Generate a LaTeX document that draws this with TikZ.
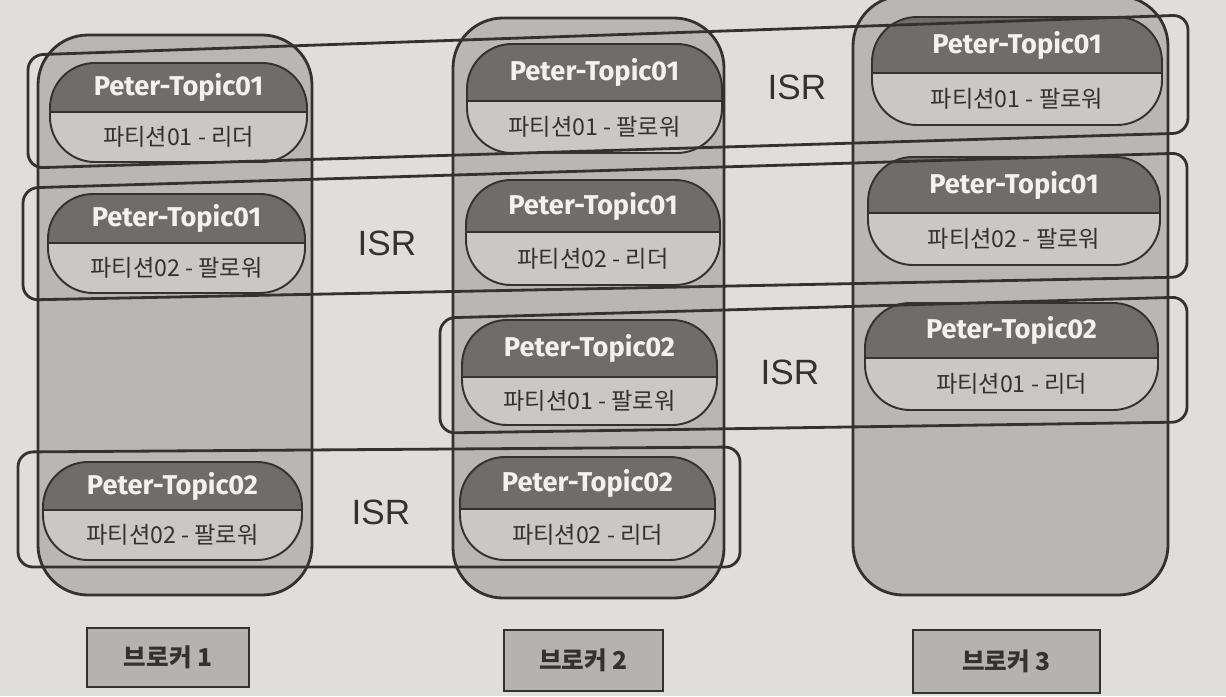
\documentclass[tikz,border=0pt]{standalone}
\usepackage{fontspec}
\setmainfont{Noto Sans CJK KR}
\newfontfamily\titlefont{Fira Sans}
\newfontfamily\isrfont{Liberation Sans}

\definecolor{paper}{HTML}{E0DEDA}
\definecolor{ink}{HTML}{34322F}
\definecolor{colfill}{HTML}{B9B7B3}
\definecolor{carddark}{HTML}{6F6D6A}
\definecolor{cardlight}{HTML}{CAC8C4}
\definecolor{boxfill}{HTML}{B5B3AF}
\definecolor{titletext}{HTML}{F4F2EE}

\begin{document}
\begin{tikzpicture}[x=0.02cm, y=-0.02cm,
        column/.style={draw=ink, fill=colfill, line width=1.6pt, rounded corners=1cm},
        cardline/.style={draw=ink, line width=1.1pt},
        isrbox/.style={draw=ink, line width=1.6pt, rounded corners=0.3cm},
        brokerbox/.style={draw=ink, fill=boxfill, line width=1.6pt, font=\bfseries\fontsize{14}{16}\selectfont, text=ink},
        title/.style={font=\titlefont\bfseries\fontsize{15.5}{18}\selectfont, text=titletext},
        sub/.style={font=\fontsize{13.2}{15}\selectfont, text=ink},
        isr/.style={font=\isrfont\fontsize{20}{24}\selectfont, text=ink}]
        \useasboundingbox (0, 0) rectangle (1226, 696);
        \clip (0, 0) rectangle (1226, 696);
        \fill[paper] (0, 0) rectangle (1226, 696);

        % broker columns
        \draw[column] (38, 35) rectangle (312, 595);
        \draw[column] (453, 18) rectangle (724, 598);
        \draw[column] (853, -4) rectangle (1168, 595);

        % partition cards
        \foreach \xa/\ya/\xb/\yb/\ym/\t/\s [count=\i] in {
            50/63/307/162/112/Peter-Topic01/파티션01 - 리더,
            48/194/305/293/243/Peter-Topic01/파티션02 - 팔로워,
            43/462/302/560/510/Peter-Topic02/파티션02 - 팔로워,
            467/44/722/153/101/Peter-Topic01/파티션01 - 팔로워,
            466/180/720/285/232/Peter-Topic01/파티션02 - 리더,
            462/320/717/425/377/Peter-Topic02/파티션01 - 팔로워,
            460/457/715/560/509/Peter-Topic02/파티션02 - 리더,
            872/17/1162/125/73/Peter-Topic01/파티션01 - 팔로워,
            868/157/1160/265/213/Peter-Topic01/파티션02 - 팔로워,
            865/303/1158/410/358/Peter-Topic02/파티션01 - 리더}
        {
            \begin{scope}
                \clip[rounded corners=0.9cm] (\xa, \ya) rectangle (\xb, \yb);
                \fill[cardlight] (\xa, \ya) rectangle (\xb, \yb);
                \fill[carddark] (\xa, \ya) rectangle (\xb, \ym);
            \end{scope}
            \draw[cardline] (\xa, \ym) -- (\xb, \ym);
            \draw[cardline, rounded corners=0.9cm] (\xa, \ya) rectangle (\xb, \yb);
            \node[title] (title\i) at ({(\xa+\xb)/2}, {(\ya+\ym)/2}) {\t};
            \node[sub] (part\i) at ({(\xa+\xb)/2}, {(\ym+\yb)/2}) {\s};
        }

        % ISR groups
        \draw[isrbox] (28, 55) -- (1188, 15) -- (1188, 133) -- (28, 168) -- cycle;
        \draw[isrbox] (23, 188) -- (1187, 153) -- (1187, 277) -- (23, 300) -- cycle;
        \draw[isrbox] (440, 318) -- (1187, 297) -- (1187, 422) -- (440, 433) -- cycle;
        \draw[isrbox] (18, 452) -- (740, 447) -- (740, 567) -- (18, 567) -- cycle;
        \node[isr] (isr1) at (797, 87) {ISR};
        \node[isr] (isr2) at (387, 243) {ISR};
        \node[isr] (isr3) at (790, 372) {ISR};
        \node[isr] (isr4) at (381, 512) {ISR};

        % broker labels
        \node[brokerbox, minimum width=3.24cm, minimum height=1.18cm] (broker1) at (168, 657.5) {브로커 1};
        \node[brokerbox, minimum width=3.18cm, minimum height=1.22cm] (broker2) at (583.5, 660.5) {브로커 2};
        \node[brokerbox, minimum width=3.74cm, minimum height=1.26cm] (broker3) at (1006.5, 661.5) {브로커 3};
    \end{tikzpicture}
\end{document}
